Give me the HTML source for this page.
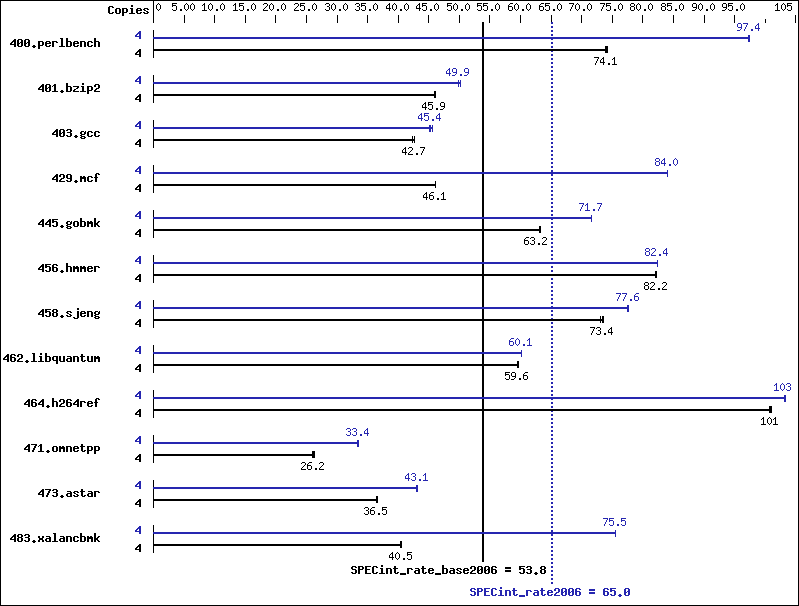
<!DOCTYPE html>
<html><head><meta charset="utf-8"><title>SPECint_rate2006</title>
<style>
html,body{margin:0;padding:0;background:#fff;font-family:"Liberation Sans",sans-serif;}
svg{display:block}
</style></head><body>
<svg width="799" height="606" viewBox="0 0 799 606" shape-rendering="crispEdges">
<rect width="799" height="606" fill="#fff"/>
<defs>
<path id="s46" d="M2 9h2v1h-2zM2 10h2v1h-2z"/>
<path id="s48" d="M2 3h1v1h-1zM1 4h1v1h-1zM3 4h1v1h-1zM0 5h1v1h-1zM4 5h1v1h-1zM0 6h1v1h-1zM4 6h1v1h-1zM0 7h1v1h-1zM4 7h1v1h-1zM0 8h1v1h-1zM4 8h1v1h-1zM1 9h1v1h-1zM3 9h1v1h-1zM2 10h1v1h-1z"/>
<path id="s49" d="M2 3h1v1h-1zM1 4h2v1h-2zM0 5h1v1h-1zM2 5h1v1h-1zM2 6h1v1h-1zM2 7h1v1h-1zM2 8h1v1h-1zM2 9h1v1h-1zM0 10h5v1h-5z"/>
<path id="s50" d="M1 3h3v1h-3zM0 4h1v1h-1zM4 4h1v1h-1zM4 5h1v1h-1zM3 6h1v1h-1zM2 7h1v1h-1zM1 8h1v1h-1zM0 9h1v1h-1zM0 10h5v1h-5z"/>
<path id="s51" d="M1 3h3v1h-3zM0 4h1v1h-1zM4 4h1v1h-1zM4 5h1v1h-1zM2 6h2v1h-2zM4 7h1v1h-1zM4 8h1v1h-1zM0 9h1v1h-1zM4 9h1v1h-1zM1 10h3v1h-3z"/>
<path id="s52" d="M3 3h1v1h-1zM2 4h2v1h-2zM1 5h1v1h-1zM3 5h1v1h-1zM0 6h1v1h-1zM3 6h1v1h-1zM0 7h1v1h-1zM3 7h1v1h-1zM0 8h5v1h-5zM3 9h1v1h-1zM3 10h1v1h-1z"/>
<path id="s53" d="M0 3h5v1h-5zM0 4h1v1h-1zM0 5h4v1h-4zM0 6h1v1h-1zM4 6h1v1h-1zM4 7h1v1h-1zM4 8h1v1h-1zM0 9h1v1h-1zM4 9h1v1h-1zM1 10h3v1h-3z"/>
<path id="s54" d="M2 3h3v1h-3zM1 4h1v1h-1zM0 5h1v1h-1zM0 6h4v1h-4zM0 7h1v1h-1zM4 7h1v1h-1zM0 8h1v1h-1zM4 8h1v1h-1zM0 9h1v1h-1zM4 9h1v1h-1zM1 10h3v1h-3z"/>
<path id="s55" d="M0 3h5v1h-5zM4 4h1v1h-1zM3 5h1v1h-1zM3 6h1v1h-1zM2 7h1v1h-1zM2 8h1v1h-1zM1 9h1v1h-1zM1 10h1v1h-1z"/>
<path id="s56" d="M1 3h3v1h-3zM0 4h1v1h-1zM4 4h1v1h-1zM0 5h1v1h-1zM4 5h1v1h-1zM1 6h3v1h-3zM0 7h1v1h-1zM4 7h1v1h-1zM0 8h1v1h-1zM4 8h1v1h-1zM0 9h1v1h-1zM4 9h1v1h-1zM1 10h3v1h-3z"/>
<path id="s57" d="M1 3h3v1h-3zM0 4h1v1h-1zM4 4h1v1h-1zM0 5h1v1h-1zM4 5h1v1h-1zM0 6h1v1h-1zM4 6h1v1h-1zM1 7h4v1h-4zM4 8h1v1h-1zM3 9h1v1h-1zM0 10h3v1h-3z"/>
<path id="b46" d="M2 9h2v1h-2zM1 10h4v1h-4zM2 11h2v1h-2z"/>
<path id="b48" d="M1 3h4v1h-4zM0 4h2v1h-2zM4 4h2v1h-2zM0 5h2v1h-2zM4 5h2v1h-2zM0 6h2v1h-2zM3 6h3v1h-3zM0 7h3v1h-3zM4 7h2v1h-2zM0 8h2v1h-2zM4 8h2v1h-2zM0 9h2v1h-2zM4 9h2v1h-2zM1 10h4v1h-4z"/>
<path id="b49" d="M2 3h2v1h-2zM1 4h3v1h-3zM0 5h1v1h-1zM2 5h2v1h-2zM2 6h2v1h-2zM2 7h2v1h-2zM2 8h2v1h-2zM2 9h2v1h-2zM0 10h6v1h-6z"/>
<path id="b50" d="M1 3h4v1h-4zM0 4h2v1h-2zM4 4h2v1h-2zM0 5h2v1h-2zM4 5h2v1h-2zM4 6h2v1h-2zM2 7h3v1h-3zM1 8h2v1h-2zM0 9h2v1h-2zM0 10h6v1h-6z"/>
<path id="b51" d="M1 3h4v1h-4zM0 4h2v1h-2zM4 4h2v1h-2zM4 5h2v1h-2zM1 6h4v1h-4zM4 7h2v1h-2zM4 8h2v1h-2zM0 9h2v1h-2zM4 9h2v1h-2zM1 10h4v1h-4z"/>
<path id="b52" d="M4 3h2v1h-2zM3 4h3v1h-3zM2 5h4v1h-4zM1 6h2v1h-2zM4 6h2v1h-2zM0 7h2v1h-2zM4 7h2v1h-2zM0 8h6v1h-6zM4 9h2v1h-2zM4 10h2v1h-2z"/>
<path id="b53" d="M0 3h6v1h-6zM0 4h2v1h-2zM0 5h5v1h-5zM0 6h2v1h-2zM4 6h2v1h-2zM4 7h2v1h-2zM4 8h2v1h-2zM0 9h2v1h-2zM4 9h2v1h-2zM1 10h4v1h-4z"/>
<path id="b54" d="M1 3h4v1h-4zM0 4h2v1h-2zM4 4h2v1h-2zM0 5h2v1h-2zM0 6h5v1h-5zM0 7h2v1h-2zM4 7h2v1h-2zM0 8h2v1h-2zM4 8h2v1h-2zM0 9h2v1h-2zM4 9h2v1h-2zM1 10h4v1h-4z"/>
<path id="b55" d="M0 3h6v1h-6zM4 4h2v1h-2zM3 5h2v1h-2zM3 6h2v1h-2zM2 7h2v1h-2zM2 8h2v1h-2zM1 9h2v1h-2zM1 10h2v1h-2z"/>
<path id="b56" d="M1 3h4v1h-4zM0 4h2v1h-2zM4 4h2v1h-2zM0 5h2v1h-2zM4 5h2v1h-2zM1 6h4v1h-4zM0 7h2v1h-2zM4 7h2v1h-2zM0 8h2v1h-2zM4 8h2v1h-2zM0 9h2v1h-2zM4 9h2v1h-2zM1 10h4v1h-4z"/>
<path id="b57" d="M1 3h4v1h-4zM0 4h2v1h-2zM4 4h2v1h-2zM0 5h2v1h-2zM4 5h2v1h-2zM0 6h2v1h-2zM4 6h2v1h-2zM1 7h5v1h-5zM4 8h2v1h-2zM0 9h2v1h-2zM4 9h2v1h-2zM1 10h4v1h-4z"/>
<path id="b61" d="M0 4h6v1h-6zM0 5h6v1h-6zM0 7h6v1h-6zM0 8h6v1h-6z"/>
<path id="b67" d="M1 3h4v1h-4zM0 4h2v1h-2zM4 4h2v1h-2zM0 5h2v1h-2zM0 6h2v1h-2zM0 7h2v1h-2zM0 8h2v1h-2zM0 9h2v1h-2zM4 9h2v1h-2zM1 10h4v1h-4z"/>
<path id="b69" d="M0 3h6v1h-6zM0 4h2v1h-2zM0 5h2v1h-2zM0 6h5v1h-5zM0 7h2v1h-2zM0 8h2v1h-2zM0 9h2v1h-2zM0 10h6v1h-6z"/>
<path id="b80" d="M0 3h5v1h-5zM0 4h2v1h-2zM4 4h2v1h-2zM0 5h2v1h-2zM4 5h2v1h-2zM0 6h5v1h-5zM0 7h2v1h-2zM0 8h2v1h-2zM0 9h2v1h-2zM0 10h2v1h-2z"/>
<path id="b83" d="M1 3h4v1h-4zM0 4h2v1h-2zM4 4h2v1h-2zM0 5h2v1h-2zM1 6h4v1h-4zM4 7h2v1h-2zM4 8h2v1h-2zM0 9h2v1h-2zM4 9h2v1h-2zM1 10h4v1h-4z"/>
<path id="b95" d="M0 10h6v1h-6zM0 11h6v1h-6z"/>
<path id="b97" d="M1 5h4v1h-4zM4 6h2v1h-2zM1 7h5v1h-5zM0 8h2v1h-2zM4 8h2v1h-2zM0 9h2v1h-2zM4 9h2v1h-2zM1 10h5v1h-5z"/>
<path id="b98" d="M0 2h2v1h-2zM0 3h2v1h-2zM0 4h2v1h-2zM0 5h5v1h-5zM0 6h2v1h-2zM4 6h2v1h-2zM0 7h2v1h-2zM4 7h2v1h-2zM0 8h2v1h-2zM4 8h2v1h-2zM0 9h2v1h-2zM4 9h2v1h-2zM0 10h5v1h-5z"/>
<path id="b99" d="M1 5h4v1h-4zM0 6h2v1h-2zM4 6h2v1h-2zM0 7h2v1h-2zM0 8h2v1h-2zM0 9h2v1h-2zM4 9h2v1h-2zM1 10h4v1h-4z"/>
<path id="b101" d="M1 5h4v1h-4zM0 6h2v1h-2zM4 6h2v1h-2zM0 7h6v1h-6zM0 8h2v1h-2zM0 9h2v1h-2zM4 9h2v1h-2zM1 10h4v1h-4z"/>
<path id="b102" d="M2 2h3v1h-3zM1 3h2v1h-2zM4 3h2v1h-2zM1 4h2v1h-2zM1 5h2v1h-2zM0 6h4v1h-4zM1 7h2v1h-2zM1 8h2v1h-2zM1 9h2v1h-2zM1 10h2v1h-2z"/>
<path id="b103" d="M1 5h3v1h-3zM5 5h1v1h-1zM0 6h2v1h-2zM4 6h2v1h-2zM0 7h2v1h-2zM4 7h2v1h-2zM1 8h4v1h-4zM0 9h2v1h-2zM1 10h4v1h-4zM0 11h2v1h-2zM4 11h2v1h-2zM1 12h4v1h-4z"/>
<path id="b104" d="M0 2h2v1h-2zM0 3h2v1h-2zM0 4h2v1h-2zM0 5h5v1h-5zM0 6h2v1h-2zM4 6h2v1h-2zM0 7h2v1h-2zM4 7h2v1h-2zM0 8h2v1h-2zM4 8h2v1h-2zM0 9h2v1h-2zM4 9h2v1h-2zM0 10h2v1h-2zM4 10h2v1h-2z"/>
<path id="b105" d="M2 2h2v1h-2zM2 3h2v1h-2zM1 5h3v1h-3zM2 6h2v1h-2zM2 7h2v1h-2zM2 8h2v1h-2zM2 9h2v1h-2zM0 10h6v1h-6z"/>
<path id="b106" d="M4 2h2v1h-2zM4 3h2v1h-2zM4 5h2v1h-2zM4 6h2v1h-2zM4 7h2v1h-2zM4 8h2v1h-2zM4 9h2v1h-2zM4 10h2v1h-2zM0 11h2v1h-2zM4 11h2v1h-2zM1 12h4v1h-4z"/>
<path id="b107" d="M0 2h2v1h-2zM0 3h2v1h-2zM0 4h2v1h-2zM0 5h2v1h-2zM4 5h2v1h-2zM0 6h2v1h-2zM3 6h2v1h-2zM0 7h4v1h-4zM0 8h4v1h-4zM0 9h2v1h-2zM3 9h2v1h-2zM0 10h2v1h-2zM4 10h2v1h-2z"/>
<path id="b108" d="M1 2h3v1h-3zM2 3h2v1h-2zM2 4h2v1h-2zM2 5h2v1h-2zM2 6h2v1h-2zM2 7h2v1h-2zM2 8h2v1h-2zM2 9h2v1h-2zM0 10h6v1h-6z"/>
<path id="b109" d="M0 5h2v1h-2zM3 5h2v1h-2zM0 6h6v1h-6zM0 7h6v1h-6zM0 8h2v1h-2zM4 8h2v1h-2zM0 9h2v1h-2zM4 9h2v1h-2zM0 10h2v1h-2zM4 10h2v1h-2z"/>
<path id="b110" d="M0 5h5v1h-5zM0 6h2v1h-2zM4 6h2v1h-2zM0 7h2v1h-2zM4 7h2v1h-2zM0 8h2v1h-2zM4 8h2v1h-2zM0 9h2v1h-2zM4 9h2v1h-2zM0 10h2v1h-2zM4 10h2v1h-2z"/>
<path id="b111" d="M1 5h4v1h-4zM0 6h2v1h-2zM4 6h2v1h-2zM0 7h2v1h-2zM4 7h2v1h-2zM0 8h2v1h-2zM4 8h2v1h-2zM0 9h2v1h-2zM4 9h2v1h-2zM1 10h4v1h-4z"/>
<path id="b112" d="M0 5h5v1h-5zM0 6h2v1h-2zM4 6h2v1h-2zM0 7h2v1h-2zM4 7h2v1h-2zM0 8h2v1h-2zM4 8h2v1h-2zM0 9h5v1h-5zM0 10h2v1h-2zM0 11h2v1h-2zM0 12h2v1h-2z"/>
<path id="b113" d="M1 5h5v1h-5zM0 6h2v1h-2zM4 6h2v1h-2zM0 7h2v1h-2zM4 7h2v1h-2zM0 8h2v1h-2zM4 8h2v1h-2zM1 9h5v1h-5zM4 10h2v1h-2zM4 11h2v1h-2zM4 12h2v1h-2z"/>
<path id="b114" d="M0 5h5v1h-5zM0 6h2v1h-2zM4 6h2v1h-2zM0 7h2v1h-2zM0 8h2v1h-2zM0 9h2v1h-2zM0 10h2v1h-2z"/>
<path id="b115" d="M1 5h4v1h-4zM0 6h2v1h-2zM4 6h2v1h-2zM1 7h2v1h-2zM3 8h2v1h-2zM0 9h2v1h-2zM4 9h2v1h-2zM1 10h4v1h-4z"/>
<path id="b116" d="M1 3h2v1h-2zM1 4h2v1h-2zM0 5h5v1h-5zM1 6h2v1h-2zM1 7h2v1h-2zM1 8h2v1h-2zM1 9h2v1h-2zM4 9h2v1h-2zM2 10h3v1h-3z"/>
<path id="b117" d="M0 5h2v1h-2zM4 5h2v1h-2zM0 6h2v1h-2zM4 6h2v1h-2zM0 7h2v1h-2zM4 7h2v1h-2zM0 8h2v1h-2zM4 8h2v1h-2zM0 9h2v1h-2zM4 9h2v1h-2zM1 10h5v1h-5z"/>
<path id="b120" d="M0 5h2v1h-2zM4 5h2v1h-2zM0 6h2v1h-2zM4 6h2v1h-2zM1 7h4v1h-4zM1 8h4v1h-4zM0 9h2v1h-2zM4 9h2v1h-2zM0 10h2v1h-2zM4 10h2v1h-2z"/>
<path id="b122" d="M0 5h6v1h-6zM4 6h2v1h-2zM3 7h2v1h-2zM1 8h2v1h-2zM0 9h2v1h-2zM0 10h6v1h-6z"/>
</defs>
<rect x="0" y="0" width="799" height="1" fill="#000"/>
<rect x="0" y="605" width="799" height="1" fill="#000"/>
<rect x="0" y="0" width="1" height="606" fill="#000"/>
<rect x="798" y="0" width="1" height="606" fill="#000"/>
<rect x="153" y="0" width="1" height="23" fill="#000"/>
<g transform="translate(108 3)" fill="#000"><use href="#b67" x="0"/><use href="#b111" x="7"/><use href="#b112" x="14"/><use href="#b105" x="21"/><use href="#b101" x="28"/><use href="#b115" x="35"/></g>
<g transform="translate(156 0)" fill="#000"><use href="#s48" x="0"/></g>
<rect x="184" y="15" width="1" height="8" fill="#000"/>
<g transform="translate(172 0)" fill="#000"><use href="#s53" x="0"/><use href="#s46" x="6"/><use href="#s48" x="12"/><use href="#s48" x="18"/></g>
<rect x="214" y="15" width="1" height="8" fill="#000"/>
<g transform="translate(202 0)" fill="#000"><use href="#s49" x="0"/><use href="#s48" x="6"/><use href="#s46" x="12"/><use href="#s48" x="18"/></g>
<rect x="245" y="15" width="1" height="8" fill="#000"/>
<g transform="translate(233 0)" fill="#000"><use href="#s49" x="0"/><use href="#s53" x="6"/><use href="#s46" x="12"/><use href="#s48" x="18"/></g>
<rect x="275" y="15" width="1" height="8" fill="#000"/>
<g transform="translate(263 0)" fill="#000"><use href="#s50" x="0"/><use href="#s48" x="6"/><use href="#s46" x="12"/><use href="#s48" x="18"/></g>
<rect x="306" y="15" width="1" height="8" fill="#000"/>
<g transform="translate(294 0)" fill="#000"><use href="#s50" x="0"/><use href="#s53" x="6"/><use href="#s46" x="12"/><use href="#s48" x="18"/></g>
<rect x="337" y="15" width="1" height="8" fill="#000"/>
<g transform="translate(325 0)" fill="#000"><use href="#s51" x="0"/><use href="#s48" x="6"/><use href="#s46" x="12"/><use href="#s48" x="18"/></g>
<rect x="367" y="15" width="1" height="8" fill="#000"/>
<g transform="translate(355 0)" fill="#000"><use href="#s51" x="0"/><use href="#s53" x="6"/><use href="#s46" x="12"/><use href="#s48" x="18"/></g>
<rect x="398" y="15" width="1" height="8" fill="#000"/>
<g transform="translate(386 0)" fill="#000"><use href="#s52" x="0"/><use href="#s48" x="6"/><use href="#s46" x="12"/><use href="#s48" x="18"/></g>
<rect x="428" y="15" width="1" height="8" fill="#000"/>
<g transform="translate(416 0)" fill="#000"><use href="#s52" x="0"/><use href="#s53" x="6"/><use href="#s46" x="12"/><use href="#s48" x="18"/></g>
<rect x="459" y="15" width="1" height="8" fill="#000"/>
<g transform="translate(447 0)" fill="#000"><use href="#s53" x="0"/><use href="#s48" x="6"/><use href="#s46" x="12"/><use href="#s48" x="18"/></g>
<rect x="489" y="15" width="1" height="8" fill="#000"/>
<g transform="translate(477 0)" fill="#000"><use href="#s53" x="0"/><use href="#s53" x="6"/><use href="#s46" x="12"/><use href="#s48" x="18"/></g>
<rect x="520" y="15" width="1" height="8" fill="#000"/>
<g transform="translate(508 0)" fill="#000"><use href="#s54" x="0"/><use href="#s48" x="6"/><use href="#s46" x="12"/><use href="#s48" x="18"/></g>
<rect x="551" y="15" width="1" height="8" fill="#000"/>
<g transform="translate(539 0)" fill="#000"><use href="#s54" x="0"/><use href="#s53" x="6"/><use href="#s46" x="12"/><use href="#s48" x="18"/></g>
<rect x="581" y="15" width="1" height="8" fill="#000"/>
<g transform="translate(569 0)" fill="#000"><use href="#s55" x="0"/><use href="#s48" x="6"/><use href="#s46" x="12"/><use href="#s48" x="18"/></g>
<rect x="612" y="15" width="1" height="8" fill="#000"/>
<g transform="translate(600 0)" fill="#000"><use href="#s55" x="0"/><use href="#s53" x="6"/><use href="#s46" x="12"/><use href="#s48" x="18"/></g>
<rect x="642" y="15" width="1" height="8" fill="#000"/>
<g transform="translate(630 0)" fill="#000"><use href="#s56" x="0"/><use href="#s48" x="6"/><use href="#s46" x="12"/><use href="#s48" x="18"/></g>
<rect x="673" y="15" width="1" height="8" fill="#000"/>
<g transform="translate(661 0)" fill="#000"><use href="#s56" x="0"/><use href="#s53" x="6"/><use href="#s46" x="12"/><use href="#s48" x="18"/></g>
<rect x="704" y="15" width="1" height="8" fill="#000"/>
<g transform="translate(692 0)" fill="#000"><use href="#s57" x="0"/><use href="#s48" x="6"/><use href="#s46" x="12"/><use href="#s48" x="18"/></g>
<rect x="734" y="15" width="1" height="8" fill="#000"/>
<g transform="translate(722 0)" fill="#000"><use href="#s57" x="0"/><use href="#s53" x="6"/><use href="#s46" x="12"/><use href="#s48" x="18"/></g>
<rect x="765" y="19" width="1" height="4" fill="#000"/>
<rect x="795" y="15" width="1" height="8" fill="#000"/>
<g transform="translate(775 0)" fill="#000"><use href="#s49" x="0"/><use href="#s48" x="6"/><use href="#s53" x="12"/></g>
<rect x="482" y="22" width="2" height="540" fill="#000"/>
<path d="M551 22h2v2h-2zM551 26h2v2h-2zM551 30h2v2h-2zM551 34h2v2h-2zM551 38h2v2h-2zM551 42h2v2h-2zM551 46h2v2h-2zM551 50h2v2h-2zM551 54h2v2h-2zM551 58h2v2h-2zM551 62h2v2h-2zM551 66h2v2h-2zM551 70h2v2h-2zM551 74h2v2h-2zM551 78h2v2h-2zM551 82h2v2h-2zM551 86h2v2h-2zM551 90h2v2h-2zM551 94h2v2h-2zM551 98h2v2h-2zM551 102h2v2h-2zM551 106h2v2h-2zM551 110h2v2h-2zM551 114h2v2h-2zM551 118h2v2h-2zM551 122h2v2h-2zM551 126h2v2h-2zM551 130h2v2h-2zM551 134h2v2h-2zM551 138h2v2h-2zM551 142h2v2h-2zM551 146h2v2h-2zM551 150h2v2h-2zM551 154h2v2h-2zM551 158h2v2h-2zM551 162h2v2h-2zM551 166h2v2h-2zM551 170h2v2h-2zM551 174h2v2h-2zM551 178h2v2h-2zM551 182h2v2h-2zM551 186h2v2h-2zM551 190h2v2h-2zM551 194h2v2h-2zM551 198h2v2h-2zM551 202h2v2h-2zM551 206h2v2h-2zM551 210h2v2h-2zM551 214h2v2h-2zM551 218h2v2h-2zM551 222h2v2h-2zM551 226h2v2h-2zM551 230h2v2h-2zM551 234h2v2h-2zM551 238h2v2h-2zM551 242h2v2h-2zM551 246h2v2h-2zM551 250h2v2h-2zM551 254h2v2h-2zM551 258h2v2h-2zM551 262h2v2h-2zM551 266h2v2h-2zM551 270h2v2h-2zM551 274h2v2h-2zM551 278h2v2h-2zM551 282h2v2h-2zM551 286h2v2h-2zM551 290h2v2h-2zM551 294h2v2h-2zM551 298h2v2h-2zM551 302h2v2h-2zM551 306h2v2h-2zM551 310h2v2h-2zM551 314h2v2h-2zM551 318h2v2h-2zM551 322h2v2h-2zM551 326h2v2h-2zM551 330h2v2h-2zM551 334h2v2h-2zM551 338h2v2h-2zM551 342h2v2h-2zM551 346h2v2h-2zM551 350h2v2h-2zM551 354h2v2h-2zM551 358h2v2h-2zM551 362h2v2h-2zM551 366h2v2h-2zM551 370h2v2h-2zM551 374h2v2h-2zM551 378h2v2h-2zM551 382h2v2h-2zM551 386h2v2h-2zM551 390h2v2h-2zM551 394h2v2h-2zM551 398h2v2h-2zM551 402h2v2h-2zM551 406h2v2h-2zM551 410h2v2h-2zM551 414h2v2h-2zM551 418h2v2h-2zM551 422h2v2h-2zM551 426h2v2h-2zM551 430h2v2h-2zM551 434h2v2h-2zM551 438h2v2h-2zM551 442h2v2h-2zM551 446h2v2h-2zM551 450h2v2h-2zM551 454h2v2h-2zM551 458h2v2h-2zM551 462h2v2h-2zM551 466h2v2h-2zM551 470h2v2h-2zM551 474h2v2h-2zM551 478h2v2h-2zM551 482h2v2h-2zM551 486h2v2h-2zM551 490h2v2h-2zM551 494h2v2h-2zM551 498h2v2h-2zM551 502h2v2h-2zM551 506h2v2h-2zM551 510h2v2h-2zM551 514h2v2h-2zM551 518h2v2h-2zM551 522h2v2h-2zM551 526h2v2h-2zM551 530h2v2h-2zM551 534h2v2h-2zM551 538h2v2h-2zM551 542h2v2h-2zM551 546h2v2h-2zM551 550h2v2h-2zM551 554h2v2h-2zM551 558h2v2h-2zM551 562h2v2h-2zM551 566h2v2h-2zM551 570h2v2h-2zM551 574h2v2h-2zM551 578h2v2h-2zM551 582h2v2h-2z" fill="#2626b0"/>
<g transform="translate(10 36)" fill="#000"><use href="#b52" x="0"/><use href="#b48" x="7"/><use href="#b48" x="14"/><use href="#b46" x="21"/><use href="#b112" x="28"/><use href="#b101" x="35"/><use href="#b114" x="42"/><use href="#b108" x="49"/><use href="#b98" x="56"/><use href="#b101" x="63"/><use href="#b110" x="70"/><use href="#b99" x="77"/><use href="#b104" x="84"/></g>
<g transform="translate(135 28)" fill="#2626b0"><use href="#b52" x="0"/></g>
<g transform="translate(135 46)" fill="#000"><use href="#b52" x="0"/></g>
<rect x="153" y="30" width="1" height="28" fill="#000"/>
<rect x="153" y="49" width="455" height="2" fill="#000"/>
<rect x="605" y="46" width="1" height="7" fill="#000"/>
<rect x="606" y="46" width="1" height="7" fill="#000"/>
<rect x="607" y="46" width="1" height="7" fill="#000"/>
<g transform="translate(594 54)" fill="#000"><use href="#s55" x="0"/><use href="#s52" x="6"/><use href="#s46" x="12"/><use href="#s49" x="18"/></g>
<rect x="153" y="37" width="597" height="2" fill="#2626b0"/>
<rect x="748" y="35" width="1" height="7" fill="#2626b0"/>
<rect x="749" y="35" width="1" height="7" fill="#2626b0"/>
<g transform="translate(737 20)" fill="#2626b0"><use href="#s57" x="0"/><use href="#s55" x="6"/><use href="#s46" x="12"/><use href="#s52" x="18"/></g>
<g transform="translate(38 81)" fill="#000"><use href="#b52" x="0"/><use href="#b48" x="7"/><use href="#b49" x="14"/><use href="#b46" x="21"/><use href="#b98" x="28"/><use href="#b122" x="35"/><use href="#b105" x="42"/><use href="#b112" x="49"/><use href="#b50" x="56"/></g>
<g transform="translate(135 73)" fill="#2626b0"><use href="#b52" x="0"/></g>
<g transform="translate(135 91)" fill="#000"><use href="#b52" x="0"/></g>
<rect x="153" y="75" width="1" height="28" fill="#000"/>
<rect x="153" y="94" width="283" height="2" fill="#000"/>
<rect x="434" y="91" width="1" height="7" fill="#000"/>
<rect x="435" y="91" width="1" height="7" fill="#000"/>
<g transform="translate(422 99)" fill="#000"><use href="#s52" x="0"/><use href="#s53" x="6"/><use href="#s46" x="12"/><use href="#s57" x="18"/></g>
<rect x="153" y="82" width="308" height="2" fill="#2626b0"/>
<rect x="458" y="80" width="1" height="7" fill="#2626b0"/>
<rect x="460" y="80" width="1" height="7" fill="#2626b0"/>
<g transform="translate(446 65)" fill="#2626b0"><use href="#s52" x="0"/><use href="#s57" x="6"/><use href="#s46" x="12"/><use href="#s57" x="18"/></g>
<g transform="translate(52 126)" fill="#000"><use href="#b52" x="0"/><use href="#b48" x="7"/><use href="#b51" x="14"/><use href="#b46" x="21"/><use href="#b103" x="28"/><use href="#b99" x="35"/><use href="#b99" x="42"/></g>
<g transform="translate(135 118)" fill="#2626b0"><use href="#b52" x="0"/></g>
<g transform="translate(135 136)" fill="#000"><use href="#b52" x="0"/></g>
<rect x="153" y="120" width="1" height="28" fill="#000"/>
<rect x="153" y="139" width="262" height="2" fill="#000"/>
<rect x="412" y="136" width="1" height="7" fill="#000"/>
<rect x="414" y="136" width="1" height="7" fill="#000"/>
<g transform="translate(402 144)" fill="#000"><use href="#s52" x="0"/><use href="#s50" x="6"/><use href="#s46" x="12"/><use href="#s55" x="18"/></g>
<rect x="153" y="127" width="280" height="2" fill="#2626b0"/>
<rect x="429" y="125" width="1" height="7" fill="#2626b0"/>
<rect x="430" y="125" width="1" height="7" fill="#2626b0"/>
<rect x="432" y="125" width="1" height="7" fill="#2626b0"/>
<g transform="translate(418 110)" fill="#2626b0"><use href="#s52" x="0"/><use href="#s53" x="6"/><use href="#s46" x="12"/><use href="#s52" x="18"/></g>
<g transform="translate(52 171)" fill="#000"><use href="#b52" x="0"/><use href="#b50" x="7"/><use href="#b57" x="14"/><use href="#b46" x="21"/><use href="#b109" x="28"/><use href="#b99" x="35"/><use href="#b102" x="42"/></g>
<g transform="translate(135 163)" fill="#2626b0"><use href="#b52" x="0"/></g>
<g transform="translate(135 181)" fill="#000"><use href="#b52" x="0"/></g>
<rect x="153" y="165" width="1" height="28" fill="#000"/>
<rect x="153" y="184" width="283" height="2" fill="#000"/>
<rect x="435" y="181" width="1" height="7" fill="#000"/>
<g transform="translate(423 189)" fill="#000"><use href="#s52" x="0"/><use href="#s54" x="6"/><use href="#s46" x="12"/><use href="#s49" x="18"/></g>
<rect x="153" y="172" width="515" height="2" fill="#2626b0"/>
<rect x="667" y="170" width="1" height="7" fill="#2626b0"/>
<g transform="translate(655 155)" fill="#2626b0"><use href="#s56" x="0"/><use href="#s52" x="6"/><use href="#s46" x="12"/><use href="#s48" x="18"/></g>
<g transform="translate(38 216)" fill="#000"><use href="#b52" x="0"/><use href="#b52" x="7"/><use href="#b53" x="14"/><use href="#b46" x="21"/><use href="#b103" x="28"/><use href="#b111" x="35"/><use href="#b98" x="42"/><use href="#b109" x="49"/><use href="#b107" x="56"/></g>
<g transform="translate(135 208)" fill="#2626b0"><use href="#b52" x="0"/></g>
<g transform="translate(135 226)" fill="#000"><use href="#b52" x="0"/></g>
<rect x="153" y="210" width="1" height="28" fill="#000"/>
<rect x="153" y="229" width="388" height="2" fill="#000"/>
<rect x="539" y="226" width="1" height="7" fill="#000"/>
<rect x="540" y="226" width="1" height="7" fill="#000"/>
<g transform="translate(524 234)" fill="#000"><use href="#s54" x="0"/><use href="#s51" x="6"/><use href="#s46" x="12"/><use href="#s50" x="18"/></g>
<rect x="153" y="217" width="439" height="2" fill="#2626b0"/>
<rect x="591" y="215" width="1" height="7" fill="#2626b0"/>
<g transform="translate(579 200)" fill="#2626b0"><use href="#s55" x="0"/><use href="#s49" x="6"/><use href="#s46" x="12"/><use href="#s55" x="18"/></g>
<g transform="translate(38 261)" fill="#000"><use href="#b52" x="0"/><use href="#b53" x="7"/><use href="#b54" x="14"/><use href="#b46" x="21"/><use href="#b104" x="28"/><use href="#b109" x="35"/><use href="#b109" x="42"/><use href="#b101" x="49"/><use href="#b114" x="56"/></g>
<g transform="translate(135 253)" fill="#2626b0"><use href="#b52" x="0"/></g>
<g transform="translate(135 271)" fill="#000"><use href="#b52" x="0"/></g>
<rect x="153" y="255" width="1" height="28" fill="#000"/>
<rect x="153" y="274" width="504" height="2" fill="#000"/>
<rect x="655" y="271" width="1" height="7" fill="#000"/>
<rect x="656" y="271" width="1" height="7" fill="#000"/>
<g transform="translate(644 279)" fill="#000"><use href="#s56" x="0"/><use href="#s50" x="6"/><use href="#s46" x="12"/><use href="#s50" x="18"/></g>
<rect x="153" y="262" width="505" height="2" fill="#2626b0"/>
<rect x="657" y="260" width="1" height="7" fill="#2626b0"/>
<g transform="translate(645 245)" fill="#2626b0"><use href="#s56" x="0"/><use href="#s50" x="6"/><use href="#s46" x="12"/><use href="#s52" x="18"/></g>
<g transform="translate(38 306)" fill="#000"><use href="#b52" x="0"/><use href="#b53" x="7"/><use href="#b56" x="14"/><use href="#b46" x="21"/><use href="#b115" x="28"/><use href="#b106" x="35"/><use href="#b101" x="42"/><use href="#b110" x="49"/><use href="#b103" x="56"/></g>
<g transform="translate(135 298)" fill="#2626b0"><use href="#b52" x="0"/></g>
<g transform="translate(135 316)" fill="#000"><use href="#b52" x="0"/></g>
<rect x="153" y="300" width="1" height="28" fill="#000"/>
<rect x="153" y="319" width="451" height="2" fill="#000"/>
<rect x="600" y="316" width="1" height="7" fill="#000"/>
<rect x="602" y="316" width="1" height="7" fill="#000"/>
<rect x="603" y="316" width="1" height="7" fill="#000"/>
<g transform="translate(590 324)" fill="#000"><use href="#s55" x="0"/><use href="#s51" x="6"/><use href="#s46" x="12"/><use href="#s52" x="18"/></g>
<rect x="153" y="307" width="476" height="2" fill="#2626b0"/>
<rect x="627" y="305" width="1" height="7" fill="#2626b0"/>
<rect x="628" y="305" width="1" height="7" fill="#2626b0"/>
<g transform="translate(616 290)" fill="#2626b0"><use href="#s55" x="0"/><use href="#s55" x="6"/><use href="#s46" x="12"/><use href="#s54" x="18"/></g>
<g transform="translate(3 351)" fill="#000"><use href="#b52" x="0"/><use href="#b54" x="7"/><use href="#b50" x="14"/><use href="#b46" x="21"/><use href="#b108" x="28"/><use href="#b105" x="35"/><use href="#b98" x="42"/><use href="#b113" x="49"/><use href="#b117" x="56"/><use href="#b97" x="63"/><use href="#b110" x="70"/><use href="#b116" x="77"/><use href="#b117" x="84"/><use href="#b109" x="91"/></g>
<g transform="translate(135 343)" fill="#2626b0"><use href="#b52" x="0"/></g>
<g transform="translate(135 361)" fill="#000"><use href="#b52" x="0"/></g>
<rect x="153" y="345" width="1" height="28" fill="#000"/>
<rect x="153" y="364" width="366" height="2" fill="#000"/>
<rect x="517" y="361" width="1" height="7" fill="#000"/>
<rect x="518" y="361" width="1" height="7" fill="#000"/>
<g transform="translate(505 369)" fill="#000"><use href="#s53" x="0"/><use href="#s57" x="6"/><use href="#s46" x="12"/><use href="#s54" x="18"/></g>
<rect x="153" y="352" width="369" height="2" fill="#2626b0"/>
<rect x="521" y="350" width="1" height="7" fill="#2626b0"/>
<g transform="translate(509 335)" fill="#2626b0"><use href="#s54" x="0"/><use href="#s48" x="6"/><use href="#s46" x="12"/><use href="#s49" x="18"/></g>
<g transform="translate(24 396)" fill="#000"><use href="#b52" x="0"/><use href="#b54" x="7"/><use href="#b52" x="14"/><use href="#b46" x="21"/><use href="#b104" x="28"/><use href="#b50" x="35"/><use href="#b54" x="42"/><use href="#b52" x="49"/><use href="#b114" x="56"/><use href="#b101" x="63"/><use href="#b102" x="70"/></g>
<g transform="translate(135 388)" fill="#2626b0"><use href="#b52" x="0"/></g>
<g transform="translate(135 406)" fill="#000"><use href="#b52" x="0"/></g>
<rect x="153" y="390" width="1" height="28" fill="#000"/>
<rect x="153" y="409" width="619" height="2" fill="#000"/>
<rect x="769" y="406" width="1" height="7" fill="#000"/>
<rect x="770" y="406" width="1" height="7" fill="#000"/>
<rect x="771" y="406" width="1" height="7" fill="#000"/>
<g transform="translate(761 414)" fill="#000"><use href="#s49" x="0"/><use href="#s48" x="6"/><use href="#s49" x="12"/></g>
<rect x="153" y="397" width="633" height="2" fill="#2626b0"/>
<rect x="784" y="395" width="1" height="7" fill="#2626b0"/>
<rect x="785" y="395" width="1" height="7" fill="#2626b0"/>
<g transform="translate(774 380)" fill="#2626b0"><use href="#s49" x="0"/><use href="#s48" x="6"/><use href="#s51" x="12"/></g>
<g transform="translate(24 441)" fill="#000"><use href="#b52" x="0"/><use href="#b55" x="7"/><use href="#b49" x="14"/><use href="#b46" x="21"/><use href="#b111" x="28"/><use href="#b109" x="35"/><use href="#b110" x="42"/><use href="#b101" x="49"/><use href="#b116" x="56"/><use href="#b112" x="63"/><use href="#b112" x="70"/></g>
<g transform="translate(135 433)" fill="#2626b0"><use href="#b52" x="0"/></g>
<g transform="translate(135 451)" fill="#000"><use href="#b52" x="0"/></g>
<rect x="153" y="435" width="1" height="28" fill="#000"/>
<rect x="153" y="454" width="162" height="2" fill="#000"/>
<rect x="312" y="451" width="1" height="7" fill="#000"/>
<rect x="313" y="451" width="1" height="7" fill="#000"/>
<rect x="314" y="451" width="1" height="7" fill="#000"/>
<g transform="translate(301 459)" fill="#000"><use href="#s50" x="0"/><use href="#s54" x="6"/><use href="#s46" x="12"/><use href="#s50" x="18"/></g>
<rect x="153" y="442" width="206" height="2" fill="#2626b0"/>
<rect x="357" y="440" width="1" height="7" fill="#2626b0"/>
<rect x="358" y="440" width="1" height="7" fill="#2626b0"/>
<g transform="translate(346 425)" fill="#2626b0"><use href="#s51" x="0"/><use href="#s51" x="6"/><use href="#s46" x="12"/><use href="#s52" x="18"/></g>
<g transform="translate(38 486)" fill="#000"><use href="#b52" x="0"/><use href="#b55" x="7"/><use href="#b51" x="14"/><use href="#b46" x="21"/><use href="#b97" x="28"/><use href="#b115" x="35"/><use href="#b116" x="42"/><use href="#b97" x="49"/><use href="#b114" x="56"/></g>
<g transform="translate(135 478)" fill="#2626b0"><use href="#b52" x="0"/></g>
<g transform="translate(135 496)" fill="#000"><use href="#b52" x="0"/></g>
<rect x="153" y="480" width="1" height="28" fill="#000"/>
<rect x="153" y="499" width="225" height="2" fill="#000"/>
<rect x="376" y="496" width="1" height="7" fill="#000"/>
<rect x="377" y="496" width="1" height="7" fill="#000"/>
<g transform="translate(364 504)" fill="#000"><use href="#s51" x="0"/><use href="#s54" x="6"/><use href="#s46" x="12"/><use href="#s53" x="18"/></g>
<rect x="153" y="487" width="265" height="2" fill="#2626b0"/>
<rect x="416" y="485" width="1" height="7" fill="#2626b0"/>
<rect x="417" y="485" width="1" height="7" fill="#2626b0"/>
<g transform="translate(405 470)" fill="#2626b0"><use href="#s52" x="0"/><use href="#s51" x="6"/><use href="#s46" x="12"/><use href="#s49" x="18"/></g>
<g transform="translate(10 531)" fill="#000"><use href="#b52" x="0"/><use href="#b56" x="7"/><use href="#b51" x="14"/><use href="#b46" x="21"/><use href="#b120" x="28"/><use href="#b97" x="35"/><use href="#b108" x="42"/><use href="#b97" x="49"/><use href="#b110" x="56"/><use href="#b99" x="63"/><use href="#b98" x="70"/><use href="#b109" x="77"/><use href="#b107" x="84"/></g>
<g transform="translate(135 523)" fill="#2626b0"><use href="#b52" x="0"/></g>
<g transform="translate(135 541)" fill="#000"><use href="#b52" x="0"/></g>
<rect x="153" y="525" width="1" height="28" fill="#000"/>
<rect x="153" y="544" width="249" height="2" fill="#000"/>
<rect x="400" y="541" width="1" height="7" fill="#000"/>
<rect x="401" y="541" width="1" height="7" fill="#000"/>
<g transform="translate(389 549)" fill="#000"><use href="#s52" x="0"/><use href="#s48" x="6"/><use href="#s46" x="12"/><use href="#s53" x="18"/></g>
<rect x="153" y="532" width="463" height="2" fill="#2626b0"/>
<rect x="615" y="530" width="1" height="7" fill="#2626b0"/>
<g transform="translate(603 515)" fill="#2626b0"><use href="#s55" x="0"/><use href="#s53" x="6"/><use href="#s46" x="12"/><use href="#s53" x="18"/></g>
<g transform="translate(351 563)" fill="#000"><use href="#b83" x="0"/><use href="#b80" x="7"/><use href="#b69" x="14"/><use href="#b67" x="21"/><use href="#b105" x="28"/><use href="#b110" x="35"/><use href="#b116" x="42"/><use href="#b95" x="49"/><use href="#b114" x="56"/><use href="#b97" x="63"/><use href="#b116" x="70"/><use href="#b101" x="77"/><use href="#b95" x="84"/><use href="#b98" x="91"/><use href="#b97" x="98"/><use href="#b115" x="105"/><use href="#b101" x="112"/><use href="#b50" x="119"/><use href="#b48" x="126"/><use href="#b48" x="133"/><use href="#b54" x="140"/><use href="#b61" x="154"/><use href="#b53" x="168"/><use href="#b51" x="175"/><use href="#b46" x="182"/><use href="#b56" x="189"/></g>
<g transform="translate(470 585)" fill="#2626b0"><use href="#b83" x="0"/><use href="#b80" x="7"/><use href="#b69" x="14"/><use href="#b67" x="21"/><use href="#b105" x="28"/><use href="#b110" x="35"/><use href="#b116" x="42"/><use href="#b95" x="49"/><use href="#b114" x="56"/><use href="#b97" x="63"/><use href="#b116" x="70"/><use href="#b101" x="77"/><use href="#b50" x="84"/><use href="#b48" x="91"/><use href="#b48" x="98"/><use href="#b54" x="105"/><use href="#b61" x="119"/><use href="#b54" x="133"/><use href="#b53" x="140"/><use href="#b46" x="147"/><use href="#b48" x="154"/></g>
</svg>
</body></html>
